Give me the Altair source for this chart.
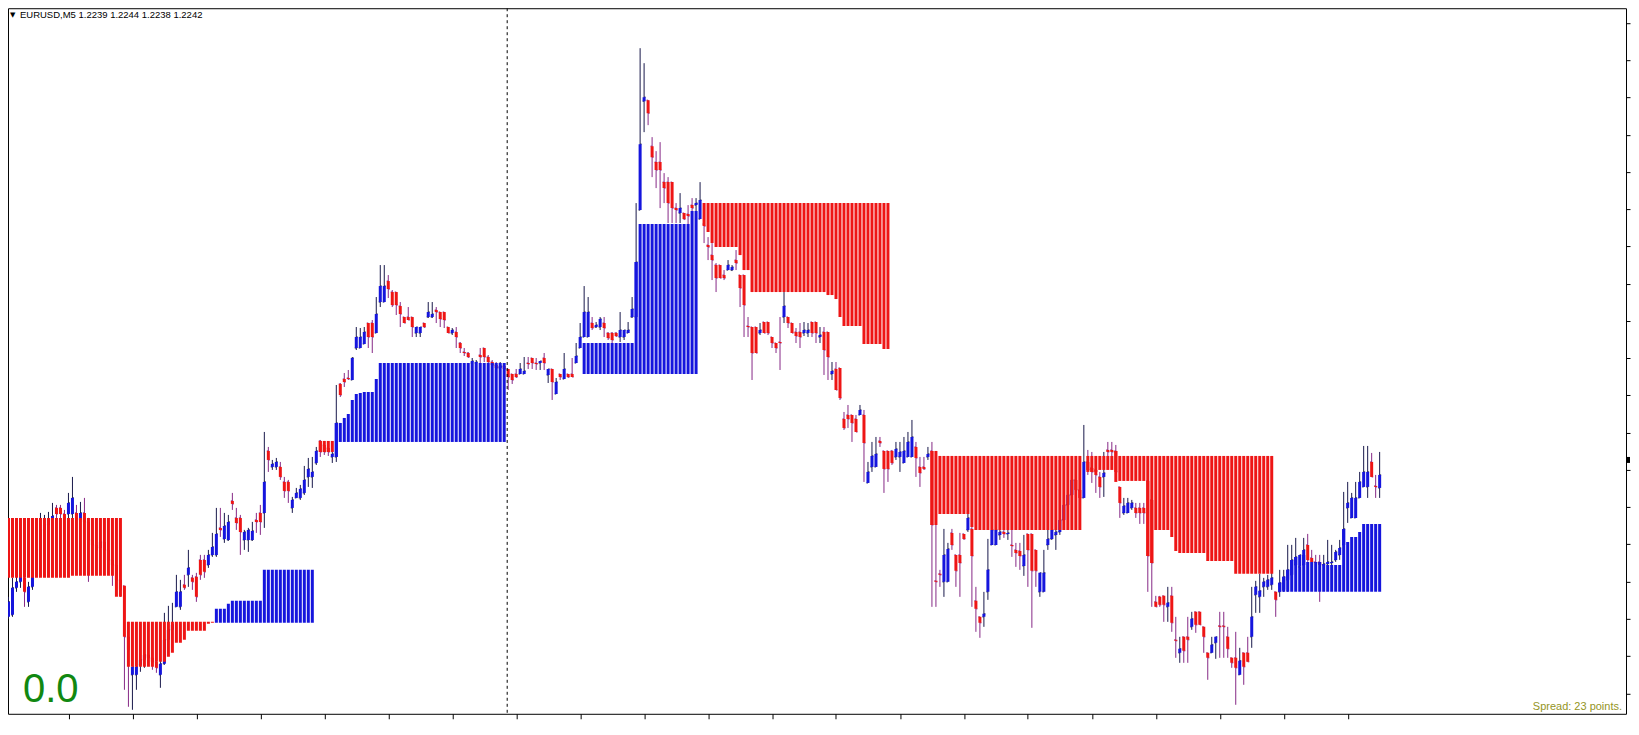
import altair as alt
import pandas as pd

# ---------------------------------------------------------------- data
BASE_PRICE = 1.21895      # price of offset 0
POINT = 0.00001           # one broker point

# OHLC of every M5 bar, in points above BASE_PRICE
OPEN = [
    383, 383, 385, 412, 418, 422, 398, 413, 430, 450, 470, 475, 480, 492, 492,
    486, 486, 486, 487, 480, 487, 478, 460, 455, 452, 458, 450, 440, 435, 420,
    414, 363, 325, 325, 335, 340, 345, 342, 338, 325, 336, 360, 370, 393, 393,
    415, 425, 422, 423, 440, 440, 435, 445, 445, 472, 461, 460, 499, 482, 482,
    460, 460, 460, 480, 487, 487, 549, 533, 533, 533, 518, 518, 492, 502, 502,
    507, 523, 523, 537, 559, 555, 552, 543, 543, 616, 621, 622, 620, 652, 652,
    656, 677, 677, 667, 698, 698, 719, 708, 708, 694, 683, 683, 683, 667, 667,
    677, 683, 683, 690, 688, 688, 673, 667, 668, 657, 648, 647, 637, 637, 645,
    652, 643, 638, 635, 632, 634, 631, 626, 626, 626, 626, 637, 642, 637, 637,
    642, 625, 631, 606, 626, 621, 626, 626, 637, 652, 663, 663, 677, 673, 673,
    677, 667, 667, 667, 663, 663, 667, 683, 683, 790, 899, 900, 854, 838, 838,
    818, 818, 818, 792, 787, 787, 786, 795, 795, 781, 776, 755, 745, 735, 735,
    725, 730, 730, 740, 725, 725, 674, 673, 673, 667, 678, 678, 663, 657, 658,
    683, 683, 677, 668, 668, 667, 667, 678, 678, 663, 668, 668, 626, 631, 632,
    581, 585, 585, 581, 585, 585, 517, 533, 533, 559, 549, 549, 549, 543, 543,
    537, 543, 543, 553, 533, 533, 543, 549, 419, 426, 418, 418, 467, 445, 445,
    466, 470, 471, 399, 383, 383, 408, 455, 455, 465, 468, 466, 455, 450, 449,
    434, 466, 466, 450, 408, 408, 455, 461, 465, 468, 480, 495, 505, 520, 510,
    502, 538, 532, 530, 523, 523, 550, 550, 549, 513, 487, 487, 492, 492, 492,
    492, 519, 500, 398, 403, 404, 393, 404, 360, 347, 363, 363, 373, 388, 388,
    373, 347, 347, 357, 374, 374, 363, 342, 342, 325, 347, 347, 363, 405, 403,
    413, 413, 415, 408, 408, 410, 420, 425, 435, 433, 435, 455, 442, 438, 438,
    435, 436, 437, 440, 445, 455, 492, 482, 482, 502, 513, 513, 538, 514, 512,
]
HIGH = [
    405, 403, 422, 425, 435, 440, 418, 438, 460, 487, 485, 488, 497, 495, 495,
    490, 507, 523, 495, 498, 502, 482, 470, 465, 465, 468, 455, 450, 445, 425,
    414, 378, 333, 340, 350, 355, 355, 350, 345, 340, 387, 394, 397, 425, 420,
    425, 450, 425, 427, 445, 445, 450, 467, 492, 492, 487, 485, 507, 492, 485,
    470, 472, 478, 487, 495, 568, 553, 540, 542, 538, 523, 520, 503, 512, 515,
    534, 542, 543, 553, 560, 559, 557, 550, 615, 617, 627, 630, 643, 673, 672,
    673, 677, 680, 703, 735, 735, 725, 710, 708, 698, 683, 693, 683, 673, 673,
    677, 698, 698, 693, 688, 688, 673, 672, 673, 658, 652, 648, 642, 640, 652,
    652, 645, 640, 638, 638, 636, 631, 626, 631, 637, 643, 643, 642, 642, 639,
    647, 631, 631, 622, 626, 647, 626, 642, 657, 677, 714, 703, 683, 678, 683,
    683, 668, 668, 668, 688, 670, 678, 703, 797, 952, 937, 900, 863, 849, 858,
    827, 823, 818, 797, 807, 787, 795, 802, 802, 818, 777, 763, 757, 737, 735,
    730, 740, 735, 750, 725, 725, 683, 673, 673, 677, 678, 678, 663, 657, 683,
    708, 683, 677, 672, 677, 678, 677, 678, 678, 673, 673, 668, 638, 638, 632,
    588, 595, 585, 585, 595, 590, 538, 558, 563, 563, 549, 549, 550, 558, 558,
    563, 568, 580, 558, 543, 543, 553, 558, 485, 430, 471, 457, 471, 445, 467,
    466, 486, 475, 413, 383, 408, 461, 472, 470, 472, 470, 470, 470, 457, 457,
    465, 466, 466, 450, 427, 450, 470, 472, 470, 485, 500, 510, 525, 530, 520,
    575, 550, 548, 543, 528, 548, 558, 558, 555, 513, 502, 502, 500, 497, 497,
    497, 530, 510, 404, 404, 404, 413, 413, 383, 363, 363, 383, 388, 388, 388,
    373, 347, 363, 363, 388, 388, 373, 342, 368, 352, 347, 363, 413, 419, 426,
    422, 425, 430, 408, 430, 430, 455, 455, 462, 445, 462, 466, 450, 445, 445,
    445, 460, 455, 450, 460, 508, 518, 507, 518, 528, 554, 554, 547, 525, 548,
]
LOW = [
    373, 381, 383, 408, 412, 393, 393, 410, 426, 445, 460, 465, 472, 480, 478,
    475, 480, 480, 475, 475, 470, 418, 445, 440, 444, 442, 434, 414, 410, 403,
    310, 293, 290, 310, 328, 332, 335, 330, 327, 312, 335, 355, 365, 393, 390,
    410, 413, 410, 398, 420, 422, 432, 443, 443, 463, 457, 459, 490, 470, 445,
    450, 448, 459, 467, 465, 472, 528, 530, 530, 520, 502, 497, 487, 502, 500,
    505, 513, 512, 535, 543, 545, 544, 537, 538, 603, 613, 620, 620, 650, 652,
    656, 652, 647, 667, 693, 698, 702, 693, 685, 673, 677, 680, 663, 663, 663,
    672, 682, 682, 677, 673, 672, 667, 665, 652, 647, 644, 642, 636, 636, 637,
    638, 637, 630, 628, 625, 628, 610, 616, 622, 626, 626, 631, 631, 630, 630,
    630, 617, 600, 606, 620, 621, 622, 623, 637, 652, 663, 663, 670, 672, 670,
    663, 660, 657, 663, 658, 660, 667, 682, 680, 790, 868, 875, 823, 812, 792,
    797, 777, 777, 777, 777, 780, 776, 788, 788, 781, 757, 740, 720, 708, 722,
    720, 730, 729, 730, 693, 663, 663, 620, 647, 665, 667, 665, 652, 647, 630,
    677, 672, 667, 657, 652, 664, 663, 663, 657, 657, 625, 620, 620, 610, 600,
    570, 572, 558, 568, 585, 518, 517, 528, 533, 553, 507, 518, 535, 540, 528,
    537, 543, 543, 523, 513, 530, 540, 393, 393, 413, 403, 418, 450, 413, 403,
    460, 468, 393, 368, 362, 373, 400, 455, 455, 460, 462, 460, 443, 433, 430,
    424, 413, 372, 413, 403, 408, 450, 460, 450, 465, 475, 490, 500, 505, 500,
    502, 525, 517, 507, 502, 503, 543, 543, 525, 482, 485, 487, 490, 482, 476,
    476, 408, 393, 393, 393, 378, 378, 368, 342, 337, 337, 337, 370, 367, 375,
    347, 320, 347, 341, 342, 342, 342, 332, 295, 325, 315, 338, 352, 387, 387,
    403, 410, 410, 383, 403, 408, 408, 422, 432, 430, 432, 438, 435, 434, 398,
    432, 434, 434, 438, 440, 452, 477, 482, 482, 502, 513, 502, 523, 502, 502,
]
CLOSE = [
    395, 398, 412, 418, 425, 408, 413, 430, 450, 470, 475, 480, 484, 486, 486,
    482, 497, 502, 481, 487, 478, 460, 455, 450, 458, 450, 440, 435, 420, 410,
    363, 350, 333, 333, 340, 345, 342, 338, 332, 336, 360, 370, 375, 408, 408,
    412, 432, 418, 403, 425, 428, 445, 453, 466, 470, 474, 478, 496, 477, 468,
    468, 470, 469, 478, 478, 518, 540, 536, 538, 523, 509, 509, 500, 507, 511,
    520, 531, 528, 549, 548, 548, 548, 546, 577, 605, 618, 621, 642, 663, 663,
    668, 663, 663, 686, 714, 714, 711, 695, 695, 686, 677, 680, 673, 673, 673,
    673, 688, 686, 688, 681, 680, 667, 670, 663, 652, 647, 643, 639, 638, 643,
    643, 638, 635, 632, 634, 631, 623, 620, 623, 631, 629, 636, 637, 636, 639,
    637, 631, 618, 618, 623, 631, 623, 623, 644, 663, 688, 688, 672, 675, 681,
    672, 662, 660, 664, 670, 670, 670, 691, 738, 856, 903, 887, 843, 830, 830,
    812, 797, 792, 790, 792, 781, 784, 792, 797, 800, 774, 753, 740, 722, 722,
    722, 735, 733, 737, 712, 695, 673, 647, 647, 670, 667, 667, 657, 652, 657,
    694, 677, 667, 664, 663, 670, 670, 667, 667, 665, 650, 643, 629, 610, 602,
    572, 581, 577, 568, 590, 557, 528, 544, 546, 557, 531, 531, 537, 551, 548,
    549, 558, 563, 542, 527, 531, 546, 475, 418, 425, 445, 451, 455, 429, 437,
    461, 482, 444, 391, 377, 386, 430, 470, 470, 468, 466, 467, 454, 447, 444,
    445, 450, 429, 429, 427, 427, 461, 470, 468, 480, 495, 505, 520, 510, 502,
    538, 530, 528, 525, 513, 527, 548, 548, 528, 497, 494, 497, 497, 487, 487,
    487, 444, 437, 393, 395, 395, 397, 377, 359, 351, 349, 360, 381, 375, 375,
    363, 342, 355, 363, 373, 373, 351, 337, 332, 339, 333, 338, 383, 413, 409,
    418, 420, 422, 400, 417, 423, 430, 440, 443, 445, 450, 440, 438, 437, 435,
    436, 438, 438, 448, 452, 471, 497, 502, 502, 518, 528, 528, 523, 513, 525,
]

# indicator zones: first bar, last bar, top, bottom (points above BASE_PRICE), colour
ZONE_FIRST = [0, 17, 28, 31, 38, 41, 42, 43, 45, 46, 51, 52, 53, 56, 57, 65, 79,
              83, 84, 85, 86, 87, 88, 89, 90, 93, 94, 145, 158, 159, 172, 175,
              176, 177, 178, 184, 185, 187, 206, 208, 209, 210, 215, 220, 232,
              234, 242, 243, 271, 274, 278, 279, 286, 287, 288, 292, 293, 294,
              301, 308, 319, 320, 321, 322, 323, 324, 325, 326, 330, 335, 336,
              337, 339, 340]
ZONE_LAST = [16, 27, 29, 37, 40, 41, 42, 44, 45, 50, 51, 52, 55, 56, 64, 77, 82,
             83, 84, 85, 86, 87, 88, 89, 92, 93, 125, 157, 158, 171, 173, 175,
             176, 177, 183, 184, 186, 205, 207, 208, 209, 214, 219, 221, 233,
             241, 242, 269, 273, 277, 278, 285, 286, 287, 291, 292, 293, 300,
             307, 317, 319, 320, 321, 322, 323, 324, 325, 329, 334, 335, 336,
             338, 339, 344]
ZONE_TOP = [482, 482, 482, 378, 378, 378, 378, 378, 378, 378, 378, 378, 391, 396,
            399, 430, 559, 577, 577, 582, 586, 600, 606, 607, 608, 621, 637, 657,
            738, 776, 789, 797, 797, 797, 797, 797, 797, 797, 797, 797, 797, 797,
            797, 797, 549, 544, 544, 544, 544, 544, 549, 544, 544, 544, 544, 544,
            544, 544, 544, 544, 417, 423, 430, 440, 443, 433, 445, 438, 435, 471,
            458, 463, 468, 476]
ZONE_BOTTOM = [422, 424, 403, 333, 338, 343, 347, 357, 360, 369, 376, 377, 377,
               377, 377, 377, 548, 543, 558, 558, 558, 558, 558, 558, 558, 558,
               558, 626, 626, 626, 626, 776, 768, 757, 753, 745, 730, 708, 705,
               701, 683, 674, 656, 651, 475, 486, 473, 470, 528, 530, 518, 519,
               444, 437, 470, 463, 449, 447, 439, 426, 408, 408, 408, 408, 408,
               408, 408, 408, 408, 408, 408, 408, 408, 408]
ZONE_COLOR = ["R"] * 12 + ["B"] * 4 + ["R"] + ["B"] * 14 + ["R"] * 29 + ["B"] * 14

TIME_TICKS = [16, 32, 48, 64, 80, 96, 112, 128, 144, 160, 176, 192, 208, 224,
              240, 256, 272, 288, 304, 320, 336]
PRICE_TICKS = [977, 940, 903, 865, 828, 791, 754, 716, 679, 642, 605, 567, 530,
               493, 456, 418, 381, 344, 306]
SEPARATOR_BAR = 125.75
BID_POINTS = 540

TITLE = "EURUSD,M5  1.2239 1.2244 1.2238 1.2242"
SIGNAL = "0.0"
SPREAD = "Spread: 23 points."

# ---------------------------------------------------------------- styling
RED = "#ee1515"
BLUE = "#1515dd"
UP_WICK = "#18184a"
DN_WICK = "#862886"
W, H = 1619, 706
X0 = 0.875
X1 = X0 + W / 4.0
Y1 = 992
Y0 = Y1 - H


def price(p):
    return BASE_PRICE + p * POINT


rows = []
for i, (o, h, l, c) in enumerate(zip(OPEN, HIGH, LOW, CLOSE)):
    up = c >= o
    rows.append(dict(bar=i, bar_l=i - 0.375, bar_r=i + 0.375,
                     o=price(o), h=price(h), l=price(l), c=price(c),
                     blo=price(min(o, c)), bhi=price(max(o, c)),
                     wick=UP_WICK if up else DN_WICK,
                     body=BLUE if up else RED))
candles = pd.DataFrame(rows)

zrows = []
for f, la, t, b, col in zip(ZONE_FIRST, ZONE_LAST, ZONE_TOP, ZONE_BOTTOM, ZONE_COLOR):
    for i in range(f, la + 1):
        zrows.append(dict(bar=i, top=price(t), bot=price(b),
                          col=RED if col == "R" else BLUE))
zones = pd.DataFrame(zrows)

x_scale = alt.Scale(domain=[X0, X1], nice=False, zero=False, padding=0)
y_scale = alt.Scale(domain=[price(Y0), price(Y1)], nice=False, zero=False, padding=0)
x_axis = alt.Axis(values=TIME_TICKS, labels=False, domain=False, grid=False,
                  tickSize=5, tickColor="black", tickWidth=1, title=None,
                  orient="bottom", minExtent=0, maxExtent=5)
y_axis = alt.Axis(values=[price(v) for v in PRICE_TICKS], labels=False,
                  domain=False, grid=False, tickSize=4, tickColor="black",
                  tickWidth=1, title=None, orient="right", minExtent=0,
                  maxExtent=4)


def X(f):
    return alt.X(f"{f}:Q", scale=x_scale, axis=x_axis)


def Y(f):
    return alt.Y(f"{f}:Q", scale=y_scale, axis=y_axis)


base = alt.Chart(candles)
wicks = base.mark_rule(strokeWidth=1, clip=True).encode(
    x=X("bar"), y=Y("h"), y2="l", color=alt.Color("wick:N", scale=None))
open_ticks = base.mark_rule(strokeWidth=1, clip=True).encode(
    x=X("bar_l"), x2="bar", y=Y("o"), color=alt.Color("wick:N", scale=None))
close_ticks = base.mark_rule(strokeWidth=1, clip=True).encode(
    x=X("bar"), x2="bar_r", y=Y("c"), color=alt.Color("wick:N", scale=None))
bodies = base.mark_bar(size=3, clip=True).encode(
    x=X("bar"), y=Y("blo"), y2="bhi", color=alt.Color("body:N", scale=None))
zone_bars = alt.Chart(zones).mark_bar(size=3, clip=True).encode(
    x=X("bar"), y=Y("top"), y2="bot", color=alt.Color("col:N", scale=None))

separator = alt.Chart(pd.DataFrame({"bar": [SEPARATOR_BAR]})).mark_rule(
    color="black", strokeWidth=1, strokeDash=[3, 3], clip=True).encode(x=X("bar"))

# current-price marker on the right edge (a filled rect, no stroke overhang)
bid = alt.Chart(pd.DataFrame({"a": [X1], "b": [X1 + 1.0],
                              "p1": [price(BID_POINTS + 3)], "p2": [price(BID_POINTS - 3)]})
                ).mark_rect(color="black", clip=False).encode(
    x=X("a"), x2="b", y=Y("p1"), y2="p2")

one = pd.DataFrame({"k": [0]})
tri = alt.Chart(one).mark_text(text="\u25bc", font="DejaVu Sans", fontSize=7,
                               color="black", align="left", baseline="middle"
                               ).encode(x=alt.value(2), y=alt.value(7))
title = alt.Chart(one).mark_text(text=TITLE, font="Liberation Sans", fontSize=9.5,
                                 color="black", align="left", baseline="middle"
                                 ).encode(x=alt.value(12), y=alt.value(7))
signal = alt.Chart(one).mark_text(text=SIGNAL, font="Liberation Sans", fontSize=40,
                                  color="#118811", align="left", baseline="alphabetic"
                                  ).encode(x=alt.value(15), y=alt.value(694))
spread = alt.Chart(one).mark_text(text=SPREAD, font="Liberation Sans", fontSize=11,
                                  color="#949424", align="right", baseline="alphabetic"
                                  ).encode(x=alt.value(1615), y=alt.value(702))

chart = alt.layer(
    wicks, open_ticks, close_ticks, bodies, zone_bars, separator, bid,
    tri, title, signal, spread
).properties(
    width=W, height=H, padding=0, background="white"
).configure_view(stroke="black", strokeWidth=1)

chart.save("out.html", embed_options={"renderer": "svg", "actions": False})
